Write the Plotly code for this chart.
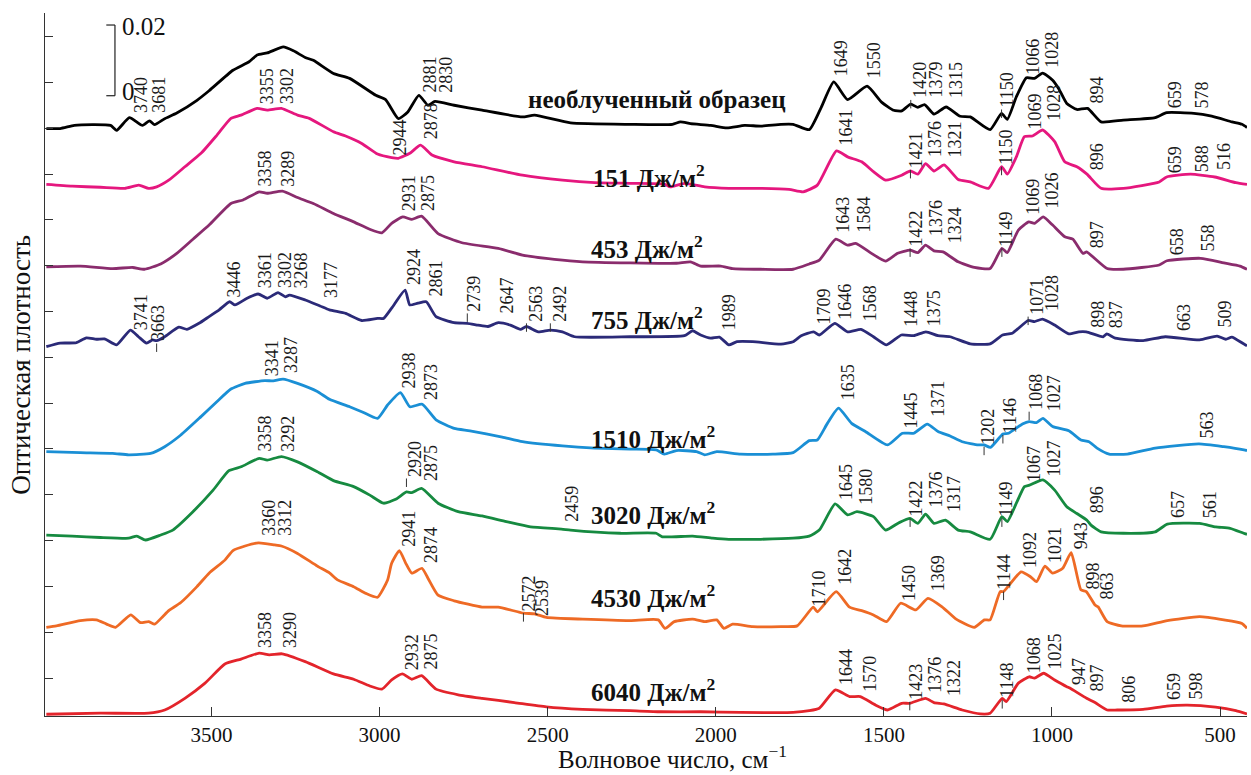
import plotly.graph_objects as go

FONT = "Liberation Serif"

# ---------------- data (wavenumber cm-1, optical density in 1e-3 units above own baseline) -------------
black = [(3991,-0.1),(3950,-0.1),(3908,0.8),(3854,1.0),(3800,0.8),(3782,-0.6),(3744,3.0),(3705,0.8),(3684,2.1),(3669,1.0),
         (3639,2.7),(3603,4.3),(3543,7.9),(3507,10.6),(3436,16.4),(3388,18.8),(3364,20.7),(3334,21.3),(3286,23.0),(3256,21.9),
         (3221,20.0),(3197,19.2),(3137,15.5),(3089,14.1),(3011,9.3),(2982,8.1),(2944,2.7),(2916,4.6),(2883,9.3),(2856,6.5),
         (2835,7.6),(2778,6.5),(2695,5.1),(2575,3.2),(2539,3.7),(2432,1.5),(2255,1.1),(2129,1.1),(2105,1.8),(2075,1.3),
         (2015,0.8),(1967,0.1),(1914,0.8),(1866,0.6),(1806,1.1),(1770,1.1),(1722,-0.4),(1686,6.0),(1649,13.1),(1608,8.1),
         (1550,11.9),(1507,7.4),(1471,5.1),(1447,4.9),(1420,6.8),(1399,5.9),(1379,6.7),(1351,4.0),(1315,6.0),(1273,3.4),
         (1243,3.2),(1184,-0.4),(1150,4.2),(1133,2.5),(1106,8.9),(1076,14.3),(1052,14.1),(1028,15.6),(998,13.6),(980,11.2),
         (956,7.0),(926,5.3),(894,5.6),(854,1.8),(788,2.3),(693,3.0),(659,4.4),(578,4.2),(525,3.4),(465,1.8),(435,1.1),(420,0.2)]
pink = [(3991,0),(3914,-0.5),(3830,-0.8),(3758,-1.1),(3716,-0.2),(3687,-1.1),(3663,-0.7),(3627,1.2),(3579,5.0),(3531,8.8),
        (3484,13.9),(3442,18.7),(3412,19.6),(3364,21.5),(3334,21.0),(3292,21.5),(3244,19.6),(3209,18.7),(3137,14.9),(3101,13.7),
        (3053,11.6),(3006,8.6),(2964,7.6),(2944,7.4),(2910,8.8),(2878,11.1),(2844,8.3),(2778,6.4),(2695,5.0),(2575,2.6),
        (2456,1.2),(2360,0.5),(2255,0.3),(2153,0.1),(2135,-0.7),(2093,0.3),(2033,-0.7),(1961,-1.1),(1866,-1.1),(1782,-1.4),
        (1740,-2.1),(1698,-0.2),(1641,9.5),(1608,7.8),(1566,6.4),(1531,3.6),(1495,1.2),(1447,2.6),(1421,3.8),(1399,2.9),
        (1376,5.9),(1351,3.8),(1321,5.5),(1279,1.4),(1243,0.7),(1189,-1.1),(1150,5.0),(1133,2.9),(1106,7.8),(1082,13.5),
        (1058,13.7),(1028,15.4),(992,12.1),(962,6.4),(926,5.0),(896,2.9),(854,-1.1),(788,-1.1),(681,0.7),(659,2.1),
        (588,2.9),(516,2.1),(453,0.5),(420,0)]
purple = [(3991,0),(3890,0.2),(3794,-0.5),(3734,-0.2),(3699,-0.7),(3651,0.8),(3603,3.8),(3555,7.8),(3507,11.8),(3442,17.9),
          (3406,18.9),(3358,21.2),(3334,20.8),(3289,21.4),(3244,19.6),(3197,17.9),(3137,15.1),(3077,12.7),(3029,10.6),(2993,9.6),
          (2964,12.3),(2931,14.1),(2904,13.4),(2875,14.3),(2826,9.4),(2755,6.8),(2647,5.2),(2575,3.3),(2480,2.1),(2396,1.4),
          (2255,1.1),(2117,1.0),(2075,1.4),(2045,0.2),(1985,0.2),(1950,-0.5),(1866,-0.7),(1770,-0.7),(1722,0.8),(1692,1.9),
          (1643,7.8),(1608,6.1),(1584,6.6),(1537,3.8),(1495,1.6),(1459,3.8),(1422,4.7),(1399,4.0),(1376,6.1),(1351,4.5),
          (1324,4.2),(1279,1.4),(1231,-0.2),(1184,-0.5),(1149,5.2),(1133,4.0),(1100,10.4),(1069,12.7),(1052,12.3),(1026,14.1),
          (998,11.8),(962,8.5),(938,7.8),(908,3.8),(897,4.2),(836,-0.5),(788,-0.7),(681,0.5),(658,1.7),(558,2.4),
          (489,1.1),(441,0.2),(420,-0.7)]
navy = [(3991,0),(3950,1.0),(3902,1.1),(3872,2.5),(3842,2.1),(3818,2.2),(3782,0.5),(3741,4.7),(3717,2.8),(3693,1.0),
        (3675,1.9),(3663,1.7),(3639,2.8),(3597,5.5),(3573,4.9),(3537,6.6),(3507,8.5),(3477,10.4),(3446,12.7),(3430,11.8),
        (3394,13.7),(3361,14.9),(3334,13.7),(3302,15.3),(3280,14.1),(3268,14.6),(3221,13.2),(3177,11.5),(3149,10.4),(3101,9.4),
        (3053,7.4),(3006,8.0),(2988,8.0),(2964,10.9),(2924,16.0),(2910,11.8),(2886,12.3),(2861,12.7),(2832,8.5),(2778,6.8),
        (2739,6.6),(2707,6.1),(2677,5.7),(2647,6.8),(2611,6.1),(2581,4.9),(2563,5.7),(2528,4.2),(2492,4.7),(2456,4.2),
        (2420,2.8),(2255,2.8),(2093,3.1),(2069,4.5),(2045,3.3),(2015,2.4),(1989,2.7),(1961,0.5),(1937,1.4),(1890,1.4),
        (1806,0.7),(1770,1.4),(1746,3.1),(1709,4.2),(1692,3.3),(1646,6.6),(1608,4.2),(1568,4.9),(1531,2.8),(1492,0.5),
        (1448,3.3),(1411,3.1),(1375,4.2),(1339,3.1),(1303,2.8),(1243,0.8),(1184,0.8),(1147,3.3),(1118,3.8),(1071,7.4),
        (1052,7.1),(1028,7.8),(992,6.1),(950,3.6),(920,4.2),(898,4.2),(848,2.8),(837,3.6),(812,2.4),(729,1.7),
        (663,2.8),(561,1.9),(509,3.0),(483,2.1),(465,2.7),(435,1.1),(420,0.2)]
blue = [(3991,0),(3890,-0.3),(3794,-0.5),(3746,-0.9),(3681,-0.5),(3639,1.4),(3591,4.7),(3531,9.9),(3484,14.1),(3442,17.7),
        (3400,19.3),(3341,20.1),(3316,20.0),(3287,20.5),(3244,19.3),(3185,17.0),(3149,14.8),(3089,12.7),(3053,11.3),(3006,9.4),
        (2976,13.2),(2938,16.7),(2910,12.7),(2873,13.4),(2832,9.0),(2778,6.6),(2731,5.9),(2635,4.1),(2575,2.8),(2456,1.6),
        (2360,1.0),(2255,0.7),(2177,0.5),(2153,-0.7),(2117,0.3),(2057,0),(2033,-0.9),(1997,0),(1926,-0.7),(1830,-0.7),
        (1770,-0.3),(1722,3.1),(1698,3.3),(1668,8.0),(1635,12.3),(1596,8.0),(1555,5.7),(1489,1.9),(1445,5.2),(1411,5.2),
        (1371,7.8),(1339,5.7),(1303,4.4),(1267,2.8),(1219,1.9),(1202,1.9),(1183,1.2),(1146,5.0),(1129,5.2),(1088,7.8),
        (1068,8.5),(1046,8.2),(1027,9.4),(998,7.1),(950,5.9),(914,3.3),(890,2.8),(866,1.0),(830,-0.7),(776,-0.7),
        (693,1.0),(563,2.2),(489,1.4),(429,0.5),(420,0.3)]
green = [(3991,0),(3914,-0.3),(3830,-0.7),(3746,-0.9),(3722,-0.3),(3696,-1.4),(3651,0),(3615,1.4),(3555,6.6),(3495,12.7),
         (3448,18.2),(3412,19.3),(3358,21.7),(3334,21.2),(3292,22.2),(3244,20.7),(3185,17.9),(3137,15.4),(3077,13.7),(3029,11.3),
         (2988,9.0),(2952,10.1),(2920,12.2),(2904,12.0),(2875,13.2),(2826,9.0),(2766,6.6),(2695,5.4),(2623,3.8),(2551,2.3),
         (2459,1.7),(2432,1.4),(2285,0.5),(2177,0.5),(2159,-0.5),(2069,-0.3),(2009,-0.9),(1961,-1.2),(1866,-1.2),(1770,-0.9),
         (1722,-0.3),(1692,1.4),(1645,8.8),(1608,5.7),(1580,6.6),(1531,5.2),(1495,1.4),(1455,3.5),(1422,4.7),(1399,3.3),
         (1376,5.9),(1351,3.3),(1317,4.2),(1279,1.4),(1243,0.9),(1184,-1.2),(1149,5.2),(1133,3.8),(1106,9.0),(1082,13.7),
         (1067,14.1),(1027,15.6),(992,12.7),(956,8.0),(926,6.1),(896,4.2),(884,2.8),(854,0.9),(788,0.5),(693,0.9),
         (657,3.1),(561,3.3),(513,2.3),(470,1.9),(430,0.5),(420,0.2)]
orange = [(3991,0),(3961,0.4),(3890,1.9),(3842,2.1),(3812,0.9),(3785,0),(3740,3.5),(3711,1.3),(3687,1.6),(3669,0.9),
          (3645,3.0),(3627,4.7),(3591,7.0),(3543,11.5),(3507,15.3),(3460,19.0),(3436,21.7),(3400,23.0),(3360,23.9),(3312,23.3),
          (3292,23.0),(3244,20.9),(3185,17.3),(3149,15.4),(3125,13.4),(3077,11.5),(3041,9.6),(3006,8.5),(2976,13.4),(2964,18.1),
          (2941,21.7),(2922,18.1),(2904,15.3),(2874,16.7),(2856,13.9),(2826,9.1),(2778,7.5),(2695,5.7),(2647,5.7),(2572,4.0),
          (2539,3.8),(2504,2.8),(2396,2.3),(2255,1.9),(2171,2.1),(2151,-0.3),(2123,1.6),(2069,2.3),(2033,1.6),(1997,2.1),
          (1976,-0.3),(1950,0.9),(1890,0.2),(1806,0.2),(1758,0.4),(1710,5.7),(1698,4.4),(1642,10.1),(1602,5.7),(1566,4.7),
          (1531,3.5),(1492,1.6),(1450,6.8),(1405,4.9),(1369,8.2),(1327,5.8),(1285,2.3),(1231,0),(1201,2.1),(1184,2.1),
          (1154,10.1),(1144,10.1),(1092,15.7),(1064,14.3),(1046,12.9),(1021,17.3),(998,15.3),(968,16.7),(943,21.1),(914,10.6),
          (898,10.1),(872,6.3),(863,5.8),(836,1.6),(794,0.4),(729,0.4),(657,1.9),(561,3.0),(489,2.1),(435,1.1),(420,-0.3)]
red = [(3991,0),(3830,0.3),(3687,0.3),(3639,1.2),(3579,4.5),(3519,8.8),(3460,14.2),(3412,15.6),(3358,17.3),(3328,16.8),
       (3290,17.1),(3221,14.9),(3137,11.4),(3077,9.9),(3029,8.0),(2993,7.1),(2964,9.7),(2932,11.4),(2904,9.9),(2875,10.9),
       (2832,7.1),(2766,5.5),(2695,4.5),(2599,3.3),(2504,2.1),(2396,1.4),(2255,1.0),(2165,0.7),(2045,0.7),(1926,0.5),
       (1770,0.5),(1722,1.0),(1692,1.7),(1644,6.9),(1602,5.0),(1570,5.0),(1525,2.6),(1489,1.2),(1447,3.1),(1423,3.1),
       (1376,4.5),(1351,3.3),(1322,2.9),(1267,1.2),(1213,0.1),(1184,0.3),(1148,4.5),(1136,3.6),(1100,8.8),(1068,10.6),
       (1052,10.2),(1025,11.6),(992,9.7),(956,7.8),(947,7.4),(897,4.5),(872,3.3),(836,1.2),(806,1.2),(729,1.4),
       (659,2.3),(598,2.6),(513,2.0),(453,1.0),(420,0.1)]

series_names = ["необлученный образец", "151 Дж/м<sup>2</sup>", "453 Дж/м<sup>2</sup>", "755 Дж/м<sup>2</sup>",
                "1510 Дж/м<sup>2</sup>", "3020 Дж/м<sup>2</sup>", "4530 Дж/м<sup>2</sup>", "6040 Дж/м<sup>2</sup>"]
spectra = [black, pink, purple, navy, blue, green, orange, red]
offsets = [166.3, 150.4, 127.1, 104.5, 74.8, 51.2, 25.1, 0.5]   # vertical stacking offsets

peaks_black = [3740, 3681, 2881, 2830, 1649, 1550, 1420, 1379, 1315, 1150, 1066, 1028, 894, 659, 578]
peaks_pink = [3355, 3302, 2944, 2878, 1641, 1421, 1376, 1321, 1150, 1069, 1028, 896, 659, 588, 516]
peaks_purple = [3358, 3289, 2931, 2875, 1643, 1584, 1422, 1376, 1324, 1149, 1069, 1026, 897, 658, 558]
peaks_navy = [3741, 3663, 3446, 3361, 3302, 3268, 3177, 2924, 2861, 2739, 2647, 2563, 2492, 1989, 1709, 1646,
              1568, 1448, 1375, 1071, 1028, 898, 837, 663, 509]
peaks_blue = [3341, 3287, 2938, 2873, 1635, 1445, 1371, 1202, 1146, 1068, 1027, 563]
peaks_green = [3358, 3292, 2920, 2875, 2459, 1645, 1580, 1422, 1376, 1317, 1149, 1067, 1027, 896, 657, 561]
peaks_orange = [3360, 3312, 2941, 2874, 2572, 2539, 1710, 1642, 1450, 1369, 1144, 1092, 1021, 943, 898, 863]
peaks_red = [3358, 3290, 2932, 2875, 1644, 1570, 1423, 1376, 1322, 1148, 1068, 1025, 947, 897, 806, 659, 598]
peaks = [peaks_black, peaks_pink, peaks_purple, peaks_navy, peaks_blue, peaks_green, peaks_orange, peaks_red]

x_ticks = [3500, 3000, 2500, 2000, 1500, 1000, 500]

# ---------------- layout / style config ----------------
colors = ["#000000", "#e5177e", "#8a2c6d", "#2b2a78", "#1a8fd5", "#168a40", "#ee6a25", "#e3242b"]
# bottom of each rotated peak label (y-axis units) and its horizontal pixel shift
peak_label_y = [
    [170.0, 170.0, 175.7, 175.7, 180.4, 179.9, 174.3, 174.3, 174.3, 171.6, 180.8, 182.7, 172.8, 171.4, 171.4],
    [172.6, 172.6, 158.1, 162.5, 161.0, 154.5, 157.5, 157.5, 155.4, 165.3, 167.7, 154.0, 153.0, 153.3, 154.0],
    [149.3, 149.3, 142.2, 142.2, 136.1, 136.1, 132.3, 135.1, 133.2, 132.3, 141.2, 143.1, 131.8, 129.9, 130.9],
    [108.7, 105.4, 117.7, 120.5, 120.5, 120.5, 117.7, 121.4, 118.2, 113.9, 113.4, 111.1, 111.1, 108.7, 110.1, 111.5,
     111.1, 109.7, 109.7, 113.0, 113.9, 109.2, 109.2, 108.3, 109.2],
    [95.5, 96.5, 92.2, 88.9, 88.9, 80.9, 84.2, 76.2, 79.5, 86.1, 85.6, 78.1],
    [74.3, 74.3, 67.2, 65.8, 54.5, 60.6, 59.2, 55.9, 58.3, 57.3, 55.9, 65.8, 67.2, 56.9, 55.4, 55.4],
    [50.3, 50.3, 47.4, 42.7, 29.1, 27.6, 30.5, 36.6, 31.9, 34.7, 35.2, 41.3, 42.7, 46.5, 35.2, 32.3],
    [18.7, 18.7, 12.5, 12.5, 8.3, 6.4, 4.0, 5.9, 5.0, 4.5, 11.6, 12.5, 8.3, 6.4, 3.1, 4.0, 4.0],
]
peak_label_dx = [
    [10, 9, 10, 9, 8, 7, 9, 11, 10, 5, 3, 10, 9, 8, 8],
    [7, 9, 2, 10, 9, 5, 10, 11, 5, 6, 12, 10, 8, 11, 9],
    [6, 6, 7, 7, 7, 8, 6, 10, 12, 4, 4, 9, 10, 10, 7],
    [10, 2, 4, 7, 7, 12, 11, 9, 10, 7, 9, 10, 10, 9, 10, 10, 9, 10, 8, 8, 10, 11, 9, 18, 7],
    [8, 8, 9, 9, 9, 9, 11, 4, 7, 7, 12, 9],
    [6, 7, 9, 10, 11, 11, 9, 6, 10, 9, 4, 5, 12, 10, 10, 10],
    [11, 11, 10, 9, 6, 8, 6, 9, 9, 10, 1, 9, 10, 10, 7, 9],
    [6, 8, 9, 9, 10, 10, 6, 10, 11, 4, 5, 11, 9, 10, 11, 8, 9],
]
# peaks whose label has a short leader mark below it: (series index, wavenumber)
leader_marks = [(0, 1420), (0, 1150), (1, 1421), (1, 1150), (2, 1422), (2, 1149),
                (3, 3663), (3, 2739), (3, 2563), (3, 2492), (3, 1071),
                (4, 1202), (4, 1146), (4, 1068), (5, 2920), (5, 1422), (5, 1149),
                (6, 2572), (6, 1144), (7, 1423), (7, 1148)]
name_x = [2176, 2198, 2204, 2204, 2188, 2188, 2188, 2188]
name_y = [174.5, 152.8, 132.7, 112.6, 78.9, 57.4, 33.9, 7.4]

fig = go.Figure()
for pts, off, col in zip(spectra, offsets, colors):
    fig.add_trace(go.Scatter(
        x=[p[0] for p in pts], y=[p[1] + off for p in pts], mode="lines",
        line=dict(color=col, width=2.8, shape="spline", smoothing=0.5),
        hoverinfo="skip", showlegend=False))

ann = []
for plist, ylist, dxlist in zip(peaks, peak_label_y, peak_label_dx):
    for wn, yb, dx in zip(plist, ylist, dxlist):
        ann.append(dict(x=wn, y=yb, xref="x", yref="y", text=str(wn), textangle=-90,
                        showarrow=False, xanchor="center", yanchor="bottom", xshift=dx,
                        font=dict(family=FONT, size=18, color="#1a1a1a")))
for name, xx, yy in zip(series_names, name_x, name_y):
    ann.append(dict(x=xx, y=yy, xref="x", yref="y", text="<b>%s</b>" % name, showarrow=False,
                    xanchor="center", yanchor="middle", font=dict(family=FONT, size=25, color="#111")))

# scale bar text
ann.append(dict(x=0.0625, y=195.0, xref="paper", yref="y", text="0.02", showarrow=False,
                xanchor="left", yanchor="middle", font=dict(family=FONT, size=25, color="#111")))
ann.append(dict(x=0.0625, y=176.6, xref="paper", yref="y", text="0", showarrow=False,
                xanchor="left", yanchor="middle", font=dict(family=FONT, size=25, color="#111")))
# axis titles
ann.append(dict(x=0.522, y=-0.0840, xref="paper", yref="paper", text="Волновое число, см<sup>−1</sup>",
                showarrow=False, xanchor="center", yanchor="bottom",
                font=dict(family=FONT, size=25, color="#111")))
ann.append(dict(x=-0.0205, y=0.5, xref="paper", yref="paper", text="Оптическая плотность", textangle=-90,
                showarrow=False, xanchor="center", yanchor="middle",
                font=dict(family=FONT, size=27, color="#111")))

shapes = [
    dict(type="line", xref="paper", yref="y", x0=0.0582, x1=0.0582, y0=175.5, y1=195.5, line=dict(color="#222", width=1.2)),
    dict(type="line", xref="paper", yref="y", x0=0.0510, x1=0.0582, y0=195.5, y1=195.5, line=dict(color="#222", width=1.2)),
    dict(type="line", xref="paper", yref="y", x0=0.0510, x1=0.0582, y0=175.5, y1=175.5, line=dict(color="#222", width=1.2)),
]
for si, wn in leader_marks:
    yb = peak_label_y[si][peaks[si].index(wn)]
    shapes.append(dict(type="line", xref="x", yref="y", x0=wn, x1=wn, y0=yb - 2.4, y1=yb,
                       line=dict(color="#333", width=1)))

fig.update_layout(
    width=1251, height=775,
    margin=dict(l=45, r=4, t=13, b=59),
    plot_bgcolor="white", paper_bgcolor="white",
    annotations=ann, shapes=shapes, showlegend=False,
    xaxis=dict(range=[3995, 420], tickvals=x_ticks, ticks="inside", ticklen=9, tickcolor="#333",
               showline=True, linecolor="#333", linewidth=1.3, showgrid=False, zeroline=False,
               tickfont=dict(family=FONT, size=21, color="#111"), ticklabelstandoff=0),
    yaxis=dict(range=[0, 198.9], tickvals=[10.75 + 12.96 * k for k in range(15)], ticks="inside", ticklen=8,
               tickcolor="#333", showticklabels=False, showline=True, linecolor="#333", linewidth=1.3,
               showgrid=False, zeroline=False),
)

fig.write_html("out.html", config={"displayModeBar": False},
               post_script="document.body.style.margin='0px';")
